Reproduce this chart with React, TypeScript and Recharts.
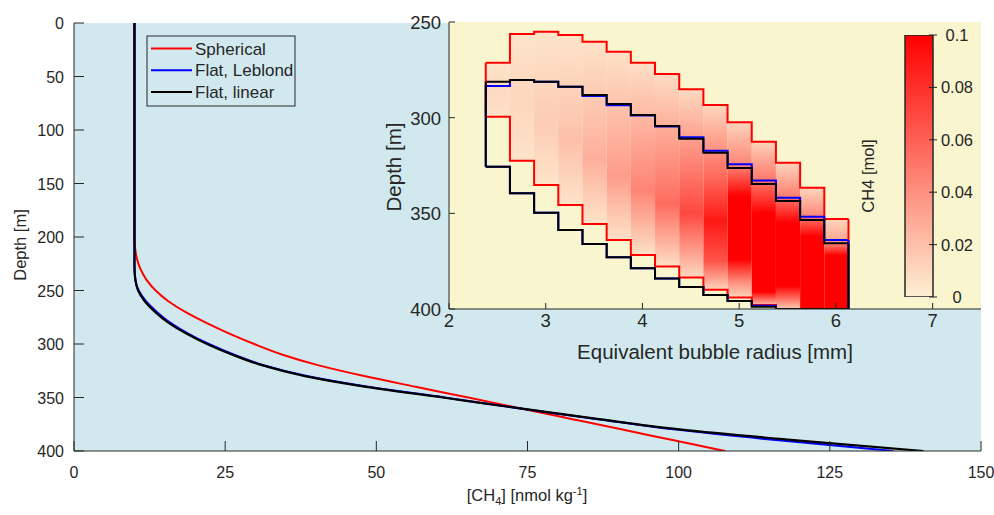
import React from 'react'
import { ComposedChart, Line, Bar, XAxis, YAxis, ReferenceArea, ReferenceLine } from 'recharts'

const INK = '#262626'
const FONT = '"Liberation Sans", Arial, Helvetica, sans-serif'
const SEA = '#d1e9ee'
const SAND = '#f9f5cf'

// ---- main panel: [CH4] profiles vs depth ----
const sphericalDepth = [0, 150, 200, 210, 220, 230, 240, 250, 260, 270, 280, 290, 300, 310, 320, 330, 340, 350, 360, 370, 380, 390, 400]
const sphericalConc = [10, 10, 10, 10.1, 10.4, 11, 12, 13.5, 15.6, 18.4, 21.8, 25.6, 29.8, 34.5, 40.5, 48, 56.5, 65.2, 73.7, 82.2, 90.7, 99.2, 107.7]

const leblondDepth = [0, 150, 228, 240, 250, 260, 270, 280, 290, 300, 310, 320, 330, 340, 350, 360, 370, 380, 390, 400]
const leblondConc = [10, 10, 10, 10.15, 10.7, 11.9, 13.7, 15.9, 18.8, 22.3, 26.5, 31.5, 38.5, 48.6, 61.3, 73.5, 86.3, 99.5, 116.5, 135.5]

const linearDepth = [0, 150, 228, 240, 250, 260, 270, 280, 290, 300, 310, 320, 330, 340, 350, 360, 370, 380, 390, 400]
const linearConc = [10, 10, 10, 10.15, 10.6, 11.7, 13.4, 15.6, 18.5, 22, 26.2, 31.2, 38.2, 48.3, 61, 73.5, 86.5, 100.5, 119.5, 140.5]

const concTicks = [0, 25, 50, 75, 100, 125, 150]
const depthTicks = [0, 50, 100, 150, 200, 250, 300, 350, 400]

// ---- inset: bubble radius vs depth ----
const radiusEdges = [2.38, 2.63, 2.88, 3.13, 3.38, 3.63, 3.88, 4.13, 4.38, 4.63, 4.88, 5.13, 5.38, 5.63, 5.88, 6.13]
const sphUpper = [271.3, 256.3, 255.1, 256.8, 260.3, 265.5, 271.3, 277.2, 285.2, 293.4, 302.4, 312.6, 323.5, 336.6, 353.0]
const sphLower = [299.5, 322.5, 335.2, 345.6, 355.6, 363.9, 371.8, 377.8, 383.6, 390.0, 394.0, 397.9, 400, 400, 400]
const lebUpper = [283.5, 280.3, 281.2, 283.8, 288.7, 293.5, 298.9, 304.6, 310.3, 317.3, 324.4, 332.9, 341.8, 351.8, 363.9]
const lebLower = [325.6, 339.5, 349.7, 358.7, 366.0, 373.0, 378.7, 384.0, 388.5, 392.7, 395.8, 398.3, 400, 400, 400]
const linUpper = [281.2, 280.3, 281.2, 283.8, 288.2, 292.9, 298.6, 304.4, 311.0, 318.3, 326.3, 334.7, 343.6, 353.5, 365.7]
const linLower = [325.6, 339.5, 349.7, 358.7, 366.0, 373.0, 378.7, 384.0, 388.5, 392.7, 395.8, 398.8, 400, 400, 400]

// CH4 [mol] in each radius bin, as [depth, value] stops down the column
const heatStops: [number, number][][] = [
  [[271.3, 0.005], [286, 0.009], [299.5, 0.006]],
  [[256.3, 0.005], [292, 0.011], [322.5, 0.005]],
  [[255.1, 0.005], [302, 0.015], [335.2, 0.005]],
  [[256.8, 0.005], [312, 0.02], [345.6, 0.005]],
  [[260.3, 0.006], [322, 0.027], [355.6, 0.005]],
  [[265.5, 0.006], [330, 0.035], [363.9, 0.006]],
  [[271.3, 0.007], [338, 0.045], [371.8, 0.006]],
  [[277.2, 0.008], [345, 0.055], [377.8, 0.007]],
  [[285.2, 0.009], [350, 0.07], [383.6, 0.009]],
  [[293.4, 0.011], [330, 0.055], [354, 0.09], [375, 0.065], [390, 0.011]],
  [[302.4, 0.012], [325, 0.045], [341, 0.1], [374, 0.1], [386, 0.04], [394, 0.012]],
  [[312.6, 0.012], [335, 0.055], [350, 0.1], [391, 0.1], [397.9, 0.02]],
  [[323.5, 0.011], [340, 0.045], [355, 0.1], [388, 0.1], [400, 0.015]],
  [[336.6, 0.011], [350, 0.04], [362, 0.1], [400, 0.1]],
  [[353, 0.011], [364, 0.03], [372, 0.1], [400, 0.1]],
]

const radiusTicks = [2, 3, 4, 5, 6, 7]
const insetDepthTicks = [250, 300, 350, 400]
const cbarTicks = [0, 0.02, 0.04, 0.06, 0.08, 0.1]
const cbarMax = [{ k: 'CH4', v: 0.1 }]

const legendItems = [
  { name: 'Spherical', color: '#ff0000' },
  { name: 'Flat, Leblond', color: '#0000ff' },
  { name: 'Flat, linear', color: '#000000' },
]

const LOW = [253, 240, 212]
const HIGH = [255, 0, 0]
const cmap = (v: number) => {
  const t = Math.max(0, Math.min(1, v / 0.1))
  return `rgb(${LOW.map((l, i) => Math.round(l + (HIGH[i] - l) * t)).join(',')})`
}

const profile = (conc: number[], depth: number[]) => conc.map((c, i) => ({ c, d: depth[i] }))
const steps = (vals: number[]) => radiusEdges.map((r, i) => ({ r, d: vals[Math.min(i, vals.length - 1)] }))

const txt = { fill: INK, fontFamily: FONT }

const mainXTick = ({ x, y, payload }: any) => (
  <g>
    <line x1={x} x2={x} y1={y} y2={y - 10} stroke={INK} />
    <text x={x} y={y + 27} textAnchor="middle" fontSize={16} {...txt}>{payload.value}</text>
  </g>
)
const mainYTick = ({ x, y, payload }: any) => (
  <g>
    <line x1={x} x2={x + 10} y1={y} y2={y} stroke={INK} />
    <text x={x - 10} y={y + 6} textAnchor="end" fontSize={16} {...txt}>{payload.value}</text>
  </g>
)
const insetXTick = ({ x, y, payload }: any) => (
  <g>
    <line x1={x} x2={x} y1={y} y2={y - 6} stroke={INK} />
    <text x={x} y={y + 18} textAnchor="middle" fontSize={18.5} {...txt}>{payload.value}</text>
  </g>
)
const insetYTick = ({ x, y, payload }: any) => (
  <g>
    <line x1={x} x2={x + 6} y1={y} y2={y} stroke={INK} />
    <text x={x - 8} y={y + 7} textAnchor="end" fontSize={18.5} {...txt}>{payload.value}</text>
  </g>
)
const cbarTick = ({ x, y, payload }: any) => (
  <g>
    <line x1={x - 4} x2={x + 4} y1={y} y2={y} stroke={INK} />
    <text x={x + 24} y={y + 6} textAnchor="middle" fontSize={16.5} {...txt}>{payload.value}</text>
  </g>
)

const abs = (left: number, top: number): React.CSSProperties => ({ position: 'absolute', left, top })

export default function App() {
  return (
    <div style={{ position: 'absolute', left: 0, top: 0, width: 994, height: 515, background: '#fff', overflow: 'hidden' }}>
      <svg width={0} height={0} style={{ position: 'absolute' }}>
        <defs>
          {heatStops.map((stops, k) => (
            <linearGradient key={k} id={`heat${k}`} x1="0" y1="0" x2="0" y2="1">
              {stops.map(([d, v], j) => (
                <stop key={j} offset={(d - sphUpper[k]) / (sphLower[k] - sphUpper[k])} stopColor={cmap(v)} />
              ))}
            </linearGradient>
          ))}
          <linearGradient id="cbar" x1="0" y1="0" x2="0" y2="1">
            <stop offset={0} stopColor={cmap(0.1)} />
            <stop offset={1} stopColor={cmap(0)} />
          </linearGradient>
        </defs>
      </svg>

      <div style={abs(0, 0)}>
        <ComposedChart width={994} height={515} layout="vertical" margin={{ top: 23, right: 13, bottom: 24, left: 0 }}>
          <XAxis type="number" dataKey="c" domain={[0, 150]} ticks={concTicks} allowDataOverflow interval={0}
            height={40} tickSize={0} tickMargin={0} tickLine={false} axisLine={{ stroke: INK }} tick={mainXTick} />
          <YAxis type="number" dataKey="d" domain={[0, 400]} ticks={depthTicks} allowDataOverflow interval={0}
            width={74} tickSize={0} tickMargin={0} tickLine={false} axisLine={{ stroke: INK }} tick={mainYTick} />
          <ReferenceArea x1={0} x2={150} y1={0} y2={400} fill={SEA} fillOpacity={1} stroke="none" />
          <Line data={profile(sphericalConc, sphericalDepth)} dataKey="c" type="monotone" stroke="#ff0000" strokeWidth={2} dot={false} isAnimationActive={false} />
          <Line data={profile(leblondConc, leblondDepth)} dataKey="c" type="monotone" stroke="#0000ff" strokeWidth={2} dot={false} isAnimationActive={false} />
          <Line data={profile(linearConc, linearDepth)} dataKey="c" type="monotone" stroke="#000000" strokeWidth={2.2} dot={false} isAnimationActive={false} />
        </ComposedChart>
      </div>

      <div style={abs(380, 0)}>
        <ComposedChart width={614} height={400} margin={{ top: 22, right: 13, bottom: 31, left: 0 }}>
          <XAxis type="number" dataKey="r" domain={[2, 7.5]} ticks={radiusTicks} allowDataOverflow interval={0}
            height={60} tickSize={0} tickMargin={0} tickLine={false} axisLine={{ stroke: INK }} tick={insetXTick} />
          <YAxis type="number" dataKey="d" domain={[250, 400]} reversed ticks={insetDepthTicks} allowDataOverflow interval={0}
            width={69} tickSize={0} tickMargin={0} tickLine={false} axisLine={{ stroke: INK }} tick={insetYTick} />
          <ReferenceArea x1={2} x2={7.5} y1={250} y2={400} fill={SAND} fillOpacity={1} stroke="none" />
          {heatStops.map((_, k) => (
            <ReferenceArea key={k} x1={radiusEdges[k]} x2={radiusEdges[k + 1]} y1={sphUpper[k]} y2={sphLower[k]}
              fill={`url(#heat${k})`} fillOpacity={1} stroke="none" />
          ))}
          <Line data={steps(sphUpper)} dataKey="d" type="stepAfter" stroke="#ff0000" strokeWidth={2} dot={false} isAnimationActive={false} />
          <Line data={steps(sphLower)} dataKey="d" type="stepAfter" stroke="#ff0000" strokeWidth={2} dot={false} isAnimationActive={false} />
          <Line data={steps(lebUpper)} dataKey="d" type="stepAfter" stroke="#0000ff" strokeWidth={2} dot={false} isAnimationActive={false} />
          <Line data={steps(lebLower)} dataKey="d" type="stepAfter" stroke="#0000ff" strokeWidth={2} dot={false} isAnimationActive={false} />
          <Line data={steps(linUpper)} dataKey="d" type="stepAfter" stroke="#000000" strokeWidth={2} dot={false} isAnimationActive={false} />
          <Line data={steps(linLower)} dataKey="d" type="stepAfter" stroke="#000000" strokeWidth={2} dot={false} isAnimationActive={false} />
          {[
            { up: sphUpper, lo: sphLower, color: '#ff0000' },
            { up: lebUpper, lo: lebLower, color: '#0000ff' },
            { up: linUpper, lo: linLower, color: '#000000' },
          ].flatMap((s, i) => [
            <ReferenceLine key={`l${i}`} segment={[{ x: radiusEdges[0], y: s.up[0] }, { x: radiusEdges[0], y: s.lo[0] }]} stroke={s.color} strokeWidth={2} />,
            <ReferenceLine key={`r${i}`} segment={[{ x: radiusEdges[15], y: s.up[14] }, { x: radiusEdges[15], y: s.lo[14] }]} stroke={s.color} strokeWidth={2} />,
          ])}
        </ComposedChart>
      </div>

      <div style={abs(885, 0)}>
        <ComposedChart width={109} height={310} data={cbarMax} margin={{ top: 35, right: 11, bottom: 13, left: 20 }} barCategoryGap={0}>
          <XAxis type="category" dataKey="k" hide />
          <YAxis type="number" orientation="right" domain={[0, 0.1]} ticks={cbarTicks} allowDataOverflow interval={0}
            width={50} tickSize={0} tickMargin={0} tickLine={false} axisLine={false} tick={cbarTick} />
          <Bar dataKey="v" fill="url(#cbar)" stroke={INK} strokeWidth={1.5} isAnimationActive={false} />
        </ComposedChart>
      </div>

      <svg width={994} height={515} style={{ ...abs(0, 0), pointerEvents: 'none' }}>
        <text transform="translate(20,245) rotate(-90)" textAnchor="middle" dominantBaseline="central" fontSize={16.5} {...txt}>Depth [m]</text>
        <text x={527} y={501} textAnchor="middle" fontSize={16.5} {...txt}>
          [CH<tspan dy={4} fontSize={11}>4</tspan><tspan dy={-4}>] [nmol kg</tspan><tspan dy={-6} fontSize={11}>-1</tspan><tspan dy={6}>]</tspan>
        </text>
        <text x={715} y={359} textAnchor="middle" fontSize={20.5} {...txt}>Equivalent bubble radius [mm]</text>
        <text transform="translate(393,167) rotate(-90)" textAnchor="middle" dominantBaseline="central" fontSize={20.5} {...txt}>Depth [m]</text>
        <text transform="translate(868,176) rotate(-90)" textAnchor="middle" dominantBaseline="central" fontSize={16.5} {...txt}>CH4 [mol]</text>
        <rect x={147} y={36} width={148} height={70} fill="none" stroke={INK} strokeWidth={1} />
        {legendItems.map((it, i) => (
          <g key={it.name}>
            <line x1={151} x2={192} y1={48.5 + i * 21.8} y2={48.5 + i * 21.8} stroke={it.color} strokeWidth={2} />
            <text x={195} y={54.5 + i * 21.8} fontSize={17} {...txt}>{it.name}</text>
          </g>
        ))}
      </svg>
    </div>
  )
}
